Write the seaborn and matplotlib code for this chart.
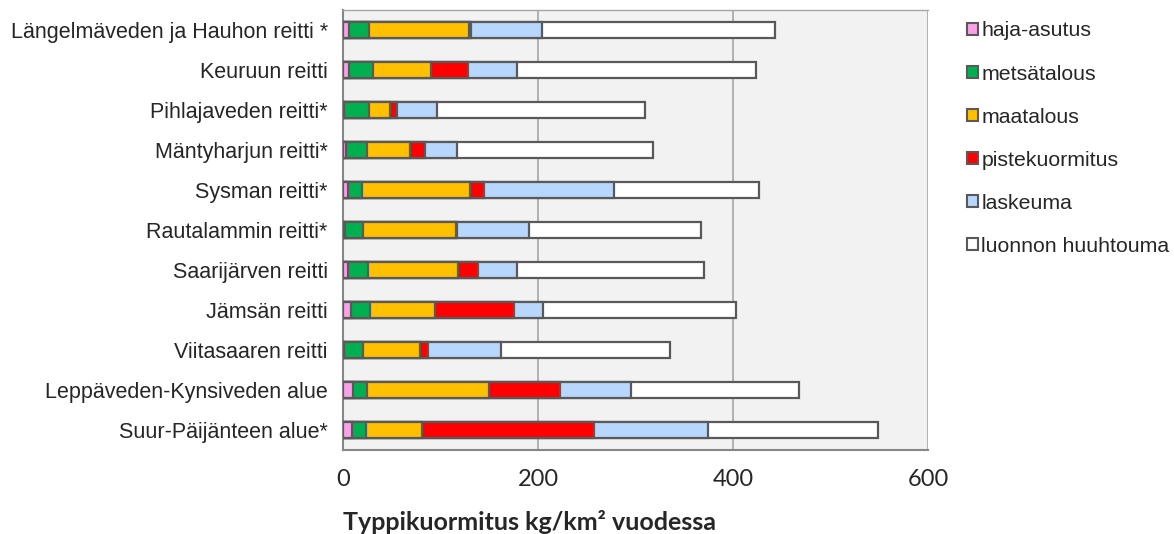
import numpy as np
import pandas as pd
import matplotlib
matplotlib.use("Agg")
import matplotlib.pyplot as plt
from matplotlib.patches import Patch
from matplotlib.ticker import FixedLocator
import seaborn as sns

categories = [
    "Längelmäveden ja Hauhon reitti *",
    "Keuruun reitti",
    "Pihlajaveden reitti*",
    "Mäntyharjun reitti*",
    "Sysman reitti*",
    "Rautalammin reitti*",
    "Saarijärven reitti",
    "Jämsän reitti",
    "Viitasaaren reitti",
    "Leppäveden-Kynsiveden alue",
    "Suur-Päijänteen alue*",
]

haja_asutus = [6, 6, 1, 3, 5.5, 2, 5.5, 8.5, 1, 10.5, 9]
metsatalous = [20.5, 24.5, 26, 21.5, 13.5, 18.5, 20.5, 19.5, 19, 14.5, 14.5]
maatalous = [102.5, 60, 21, 44.5, 111.5, 95, 92, 66, 59, 125, 58]
pistekuormitus = [2.5, 37.5, 7, 15, 14, 1, 20.5, 81, 8, 73, 176]
laskeuma = [73, 50.5, 41, 32.5, 133, 74.5, 39.5, 30, 75.5, 72.5, 117]
luonnon_huuhtouma = [239, 245.5, 214, 201, 149, 176.5, 192, 198, 173, 172, 174]

series_names = ["haja-asutus", "metsätalous", "maatalous", "pistekuormitus",
                "laskeuma", "luonnon huuhtouma"]
colors = ["#F9A0E6", "#00B050", "#FFC000", "#FF0000", "#B7D7FF", "#FFFFFF"]
edge = "#595959"

df = pd.DataFrame(
    [haja_asutus, metsatalous, maatalous, pistekuormitus, laskeuma, luonnon_huuhtouma],
    index=series_names, columns=categories,
).T
cum = df.cumsum(axis=1)

sns.set_theme(style="white")
plt.rcParams["font.family"] = ["Liberation Sans", "DejaVu Sans"]

fig = plt.figure(figsize=(11.74, 5.34), dpi=100)
ax = fig.add_axes([343 / 1174, 1 - 450 / 534, 585 / 1174, 440 / 534])
ax.set_facecolor("#F2F2F2")

# stacked bars: draw cumulative totals from the outermost segment inwards
for name, col in reversed(list(zip(series_names, colors))):
    sns.barplot(x=cum[name].values, y=categories, orient="h", color=col,
                saturation=1, width=0.4, edgecolor=edge, linewidth=1.6,
                ax=ax, zorder=3)

ax.set_xlim(0, 600)
ax.set_ylim(len(categories) - 0.5, -0.5)
ax.set_xticks([0, 200, 400, 600])
ax.xaxis.grid(True, color="#A6A6A6", linewidth=1.2, zorder=0)
ax.set_axisbelow(True)

for s in ["left", "bottom"]:
    ax.spines[s].set_color("#868686")
    ax.spines[s].set_linewidth(1.5)
ax.spines["top"].set_color("#A6A6A6")
ax.spines["top"].set_linewidth(1.0)
ax.spines["right"].set_visible(False)

ax.tick_params(axis="x", direction="out", length=7, width=1.5, color="#868686",
               pad=7, labelsize=17)
for lbl in ax.get_xticklabels():
    lbl.set_family(["Lato", "DejaVu Sans"])
ax.tick_params(axis="y", which="major", length=0, pad=11, labelsize=15.5)
ax.yaxis.set_minor_locator(FixedLocator(np.arange(-0.5, len(categories), 1.0)))
ax.tick_params(axis="y", which="minor", direction="out", length=6, width=1.5,
               color="#868686")
ax.set_xlabel("")
ax.set_ylabel("")

fig.text(343 / 1174, 1 - 522 / 534, "Typpikuormitus kg/km² vuodessa",
         ha="left", va="center", fontsize=18, fontweight="bold",
         family=["Lato", "DejaVu Sans"])

handles = [Patch(facecolor=c, edgecolor=edge, linewidth=1.5) for c in colors]
fig.legend(handles, series_names, loc="upper left",
           bbox_to_anchor=(958 / 1174, 1 - 13 / 534), frameon=False,
           fontsize=15.3, handlelength=0.55, handleheight=0.55,
           handletextpad=0.15, labelspacing=1.13, borderaxespad=0)

fig.savefig("out.png", dpi=100)
